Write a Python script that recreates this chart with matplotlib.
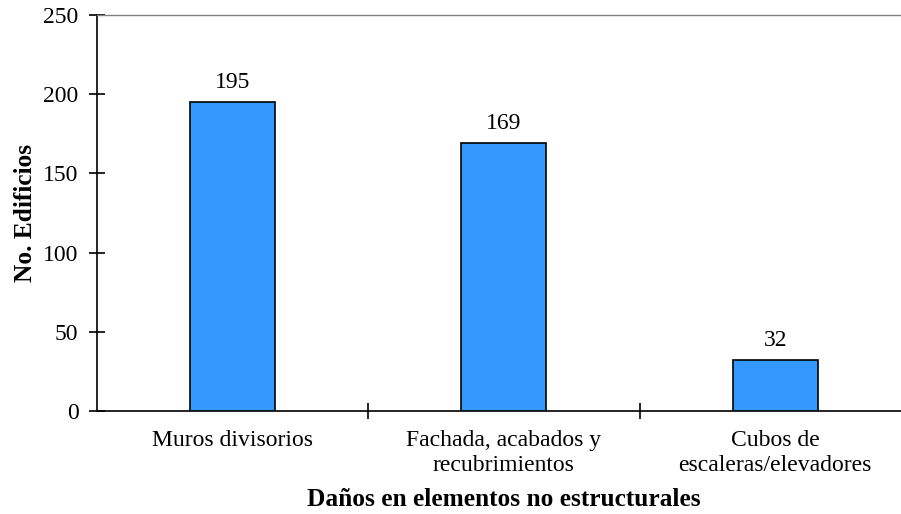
import matplotlib
matplotlib.use("Agg")
import matplotlib.pyplot as plt

categories = ["Muros divisorios", "Fachada, acabados y\nrecubrimientos", "Cubos de\nescaleras/elevadores"]
values = [195, 169, 32]
yticks = [0, 50, 100, 150, 200, 250]

plt.rcParams['font.family'] = ['Liberation Serif', 'DejaVu Serif']

fig = plt.figure(figsize=(9.01, 5.14), dpi=100)
left = 96.5 / 901
bottom = (514 - 411) / 514
top = (514 - 15) / 514
ax = fig.add_axes([left, bottom, 1 - left, top - bottom])

x = list(range(len(categories)))
bars = ax.bar(x, values, width=0.313, color='#3399FF', edgecolor='black', linewidth=1.2, zorder=3)
for xi, v in zip(x, values):
    ax.text(xi, v + 6, str(v), ha='center', va='bottom', fontsize=17)

ax.set_ylim(0, 250)
ax.set_xlim(-0.5, 2.5 - 10 / 271.5)
ax.set_yticks(yticks)
ax.set_yticklabels([str(t) for t in yticks], fontsize=17)
ax.tick_params(axis='y', direction='inout', length=12, width=1.2, pad=7)

ax.set_xticks([0.5, 1.5])
ax.set_xticklabels([])
ax.set_xticks(x, minor=True)
ax.set_xticklabels(categories, minor=True, fontsize=17, linespacing=1.2)
ax.tick_params(axis='x', which='major', direction='inout', length=12, width=1.2)
ax.tick_params(axis='x', which='minor', length=0, pad=14)

ax.spines['right'].set_visible(False)
ax.spines['top'].set_color('#808080')
ax.spines['top'].set_linewidth(1.0)
ax.spines['left'].set_linewidth(1.2)
ax.spines['bottom'].set_linewidth(1.2)

ax.set_ylabel('No. Edificios', fontsize=18.3, fontweight='bold')
ax.yaxis.set_label_coords(-(96.5 - 26) / (901 - 96.5), 0.5)
ax.set_xlabel('Daños en elementos no estructurales', fontsize=18.3, fontweight='bold')
ax.xaxis.set_label_coords((504 - 96.5) / (901 - 96.5), -(499 - 411) / 396)
ax.xaxis.label.set_va('center')
ax.yaxis.label.set_va('center')

fig.savefig('out.png', dpi=100)
